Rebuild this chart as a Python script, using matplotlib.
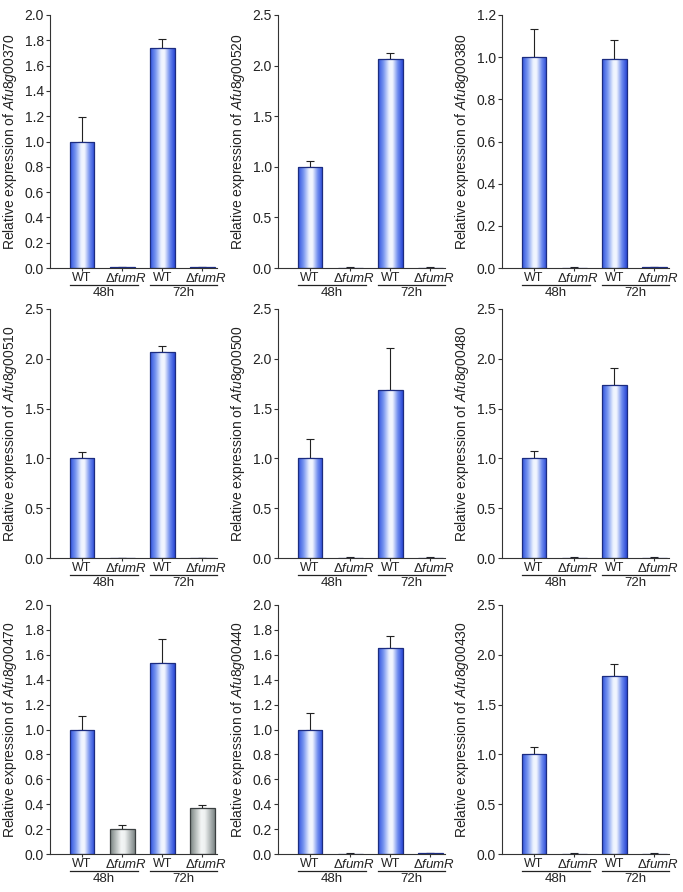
import numpy as np
import matplotlib.pyplot as plt
from matplotlib.colors import LinearSegmentedColormap
from matplotlib.transforms import ScaledTranslation

plt.rcParams['font.family'] = ['Liberation Sans', 'DejaVu Sans']
plt.rcParams['mathtext.fontset'] = 'custom'
plt.rcParams['mathtext.rm'] = 'Liberation Sans'
plt.rcParams['mathtext.it'] = 'Liberation Sans:italic'

genes = ['Afu8g00370', 'Afu8g00520', 'Afu8g00380',
         'Afu8g00510', 'Afu8g00500', 'Afu8g00480',
         'Afu8g00470', 'Afu8g00440', 'Afu8g00430']
wt_48h = [1.0, 1.0, 1.0, 1.0, 1.0, 1.0, 1.0, 1.0, 1.0]
wt_48h_err = [0.19, 0.055, 0.135, 0.06, 0.195, 0.07, 0.105, 0.135, 0.072]
ko_48h = [0.004, 0.0, 0.002, 0.0, 0.002, 0.002, 0.2, 0.004, 0.003]
ko_48h_err = [0.006, 0.005, 0.004, 0.005, 0.006, 0.005, 0.03, 0.005, 0.005]
wt_72h = [1.737, 2.07, 0.992, 2.07, 1.685, 1.74, 1.537, 1.655, 1.788]
wt_72h_err = [0.075, 0.05, 0.09, 0.055, 0.42, 0.17, 0.193, 0.095, 0.12]
ko_72h = [0.006, 0.0, 0.003, 0.0, 0.002, 0.002, 0.37, 0.005, 0.003]
ko_72h_err = [0.004, 0.005, 0.003, 0.005, 0.005, 0.005, 0.025, 0.004, 0.005]
y_max = [2.0, 2.5, 1.2, 2.5, 2.5, 2.5, 2.0, 2.0, 2.5]
y_step = [0.2, 0.5, 0.2, 0.5, 0.5, 0.5, 0.2, 0.2, 0.5]
grey_ko = [False] * 6 + [True, False, False]

groups = ['48h', '72h']
bar_labels = ['WT', 'Δ$\\mathit{fumR}$', 'WT', 'Δ$\\mathit{fumR}$']
xpos = np.array([1, 2, 3, 4])

blue_cmap = LinearSegmentedColormap.from_list('bl', [
    (0.0, '#2f52de'), (0.22, '#7896f0'), (0.45, '#eef3ff'),
    (0.58, '#f4f7ff'), (0.8, '#6c8aee'), (1.0, '#2a48d6')])
grey_cmap = LinearSegmentedColormap.from_list('gr', [
    (0.0, '#77817f'), (0.45, '#f4f6f6'), (0.6, '#eef1f1'), (1.0, '#7c8585')])
grad = np.linspace(0, 1, 200).reshape(1, -1)

fig = plt.figure(figsize=(6.83, 8.92), dpi=100)
W, H = 683, 892
col_left = [50, 278, 502]
row_top = [15, 309, 605]
row_bot = [268, 558, 854]
ax_w = 167

for i, gene in enumerate(genes):
    r, c = divmod(i, 3)
    ax = fig.add_axes([col_left[c] / W, 1 - row_bot[r] / H,
                       ax_w / W, (row_bot[r] - row_top[r]) / H])
    vals = [wt_48h[i], ko_48h[i], wt_72h[i], ko_72h[i]]
    errs = [wt_48h_err[i], ko_48h_err[i], wt_72h_err[i], ko_72h_err[i]]
    ax.errorbar(xpos, vals, yerr=[[0] * 4, errs], fmt='none',
                ecolor='#222222', elinewidth=0.8, capsize=3,
                capthick=0.8, zorder=1)
    bars = ax.bar(xpos, vals, width=0.62, facecolor='none', zorder=3)
    for j, b in enumerate(bars):
        is_grey = grey_ko[i] and j in (1, 3)
        b.set_edgecolor('#3a3f40' if is_grey else '#1c2c80')
        b.set_linewidth(0.9)
        if b.get_height() <= 0:
            continue
        x0 = b.get_x()
        im = ax.imshow(grad, extent=[x0, x0 + b.get_width(), 0, b.get_height()],
                       aspect='auto', cmap=grey_cmap if is_grey else blue_cmap,
                       zorder=2, interpolation='bicubic')
        im.set_clip_path(b)

    ax.set_xlim(0.2, 4.37)
    ax.set_ylim(0, y_max[i])
    ticks = np.arange(0, y_max[i] + 1e-9, y_step[i])
    ax.set_yticks(ticks)
    ax.set_yticklabels([f'{t:.1f}' for t in ticks])
    ax.set_xticks(xpos)
    ax.set_xticklabels([])
    ax.tick_params(axis='y', length=3, width=0.8, labelsize=10, pad=1.5,
                   colors='#333333', labelcolor='#222222')
    ax.tick_params(axis='x', length=2, width=0.8, colors='#333333')
    for s in ['top', 'right']:
        ax.spines[s].set_visible(False)
    for s in ['left', 'bottom']:
        ax.spines[s].set_linewidth(0.8)
        ax.spines[s].set_color('#333333')

    ax.set_ylabel('Relative expression of $\\mathit{' + gene + '}$',
                  fontsize=10, color='#222222')
    ax.yaxis.set_label_coords(-31 / ax_w, 0.5)

    base = ax.get_xaxis_transform()
    t_lab = base + ScaledTranslation(0, -10 / 100, fig.dpi_scale_trans)
    t_line = base + ScaledTranslation(0, -17 / 100, fig.dpi_scale_trans)
    t_grp = base + ScaledTranslation(0, -25.5 / 100, fig.dpi_scale_trans)
    for x, lab in zip(xpos, bar_labels):
        if lab == 'WT':
            ax.text(x, 0, lab, transform=t_lab, ha='center', va='center',
                    fontsize=9, color='#222222')
        else:
            ax.text(x + 0.1, 0, lab, transform=t_lab, ha='center', va='center',
                    fontsize=9.5, color='#222222')
    for g, (a, b2) in enumerate([(0.69, 2.4), (2.7, 4.37)]):
        ax.plot([a, b2], [0, 0], transform=t_line, color='#222222',
                lw=0.9, clip_on=False)
        ax.text((a + b2) / 2, 0, groups[g], transform=t_grp, ha='center',
                va='center', fontsize=9.5, color='#222222')

fig.savefig('out.png', dpi=100)
